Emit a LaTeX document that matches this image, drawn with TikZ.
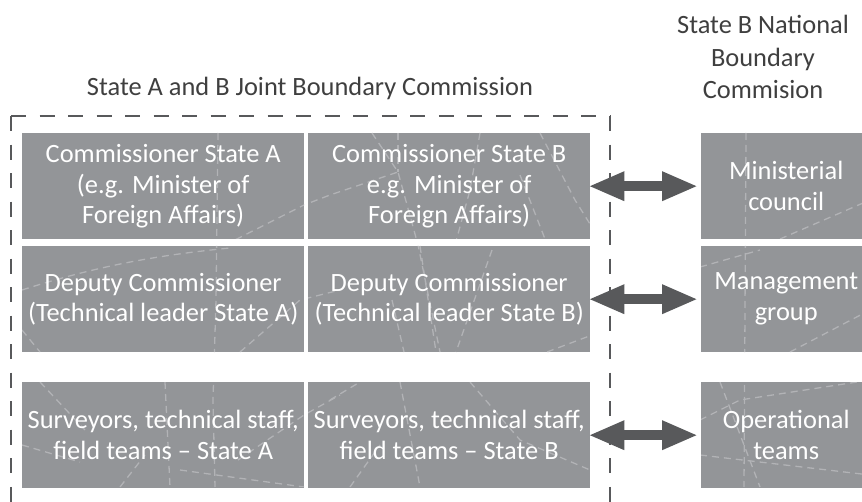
\documentclass[tikz,border=0pt]{standalone}
\usepackage{fontspec}
\setmainfont{Carlito}
\usetikzlibrary{arrows.meta}
\definecolor{boxgray}{HTML}{939598}
\definecolor{darkg}{HTML}{58595B}
\definecolor{pattc}{HTML}{B2B3B6}
\definecolor{titleg}{HTML}{3F3F3F}
\begin{document}
\begin{tikzpicture}[x=1bp,y=-1bp,
  box/.style={fill=boxgray, draw=none, text=white, align=center,
    font=\fontsize{26.5}{31}\selectfont, inner sep=0pt, anchor=north west,
    minimum width=282bp, minimum height=106bp},
  rbox/.style={box, minimum width=170bp},
  titletext/.style={text=titleg, align=center, font=\fontsize{26.5}{32.5}\selectfont, inner sep=0pt},
  frameline/.style={draw=darkg, line width=2.6bp, dash pattern=on 15bp off 13.52bp},
  dblarrow/.style={draw=darkg, line width=10bp,
    {Triangle[width=27bp,length=36bp]}-{Triangle[width=27bp,length=36bp]},
    shorten <=-2bp, shorten >=3bp},
  pattline/.style={draw=pattc, line width=1.3bp, dash pattern=on 7bp off 5bp}
]
\clip (0,0) rectangle (862,502);
% titles
\node[titletext] (t1) at (310,88) {State A and B Joint Boundary Commission};
\node[titletext] (t2) at (763,57) {State B National\\Boundary\\Commision};
% frame
\coordinate (ftl) at (11,116);
\coordinate (ftr) at (610,116);
\coordinate (fbl) at (11,540);
\coordinate (fbr) at (610,540);
\draw[frameline] (ftl) -- (fbl);
\draw[frameline] (ftl) -- (ftr);
\draw[frameline] (ftr) -- (fbr);
% boxes
\node[box] (a1) at (22,133) {};
\node[box] (b1) at (308,133) {};
\node[rbox] (r1) at (701,133) {};
\node[box] (a2) at (22,246) {};
\node[box] (b2) at (308,246) {};
\node[rbox] (r2) at (701,246) {};
\node[box] (a3) at (22,382) {};
\node[box] (b3) at (308,382) {};
\node[rbox] (r3) at (701,382) {};
% pattern
\begin{scope}
\clip (22,133) rectangle (304,239) (308,133) rectangle (590,239) (701,133) rectangle (871,239)
      (22,246) rectangle (304,352) (308,246) rectangle (590,352) (701,246) rectangle (871,352)
      (22,382) rectangle (304,487) (308,382) rectangle (590,487) (701,382) rectangle (871,487);
\draw[pattline] (218,133)--(216,300)--(213,400)--(215,487);
\draw[pattline] (225,245)--(304,205)--(330,195)--(398,172);
\draw[pattline] (372,133)--(398,172)--(418,245)--(440,352);
\draw[pattline] (398,133)--(398,172);
\draw[pattline] (455,245)--(470,190)--(480,133);
\draw[pattline] (540,133)--(575,200)--(600,240);
\draw[pattline] (520,175)--(545,239);
\draw[pattline] (22,290) .. controls (100,265) and (160,255) .. (230,248);
\draw[pattline] (22,330)--(40,352);
\draw[pattline] (240,352)--(300,300)--(340,290);
\draw[pattline] (420,246)--(436,352);
\draw[pattline] (492,250)--(456,352);
\draw[pattline] (392,300)--(404,352);
\draw[pattline] (547,352)--(592,335);
\draw[pattline] (40,382)--(85,430);
\draw[pattline] (165,382)--(170,487);
\draw[pattline] (238,460)--(304,415)--(340,395);
\draw[pattline] (120,487)--(145,455);
\draw[pattline] (180,470)--(304,487);
\draw[pattline] (22,445)--(80,462);
\draw[pattline] (400,382)--(420,487);
\draw[pattline] (470,382)--(520,440)--(590,470);
\draw[pattline] (350,487)--(380,445);
\draw[pattline] (330,400)--(360,382);
\draw[pattline] (746,133)--(744,487);
\draw[pattline] (780,239)--(870,200);
\draw[pattline] (700,267)--(760,250);
\draw[pattline] (790,352)--(870,310);
\draw[pattline] (700,420)--(740,400)--(870,380);
\draw[pattline] (700,455)--(870,475);
\draw[pattline] (720,382)--(760,487);
\end{scope}
% texts
\node[box, fill=none] at (a1.north west) {Commissioner State A\\(e.g. Minister of\\Foreign Affairs)};
\node[box, fill=none] at (b1.north west) {Commissioner State B\\e.g. Minister of\\Foreign Affairs)};
\node[rbox, fill=none] at (r1.north west) {Ministerial\\council};
\node[box, fill=none] at (a2.north west) {Deputy Commissioner\\(Technical leader State A)};
\node[box, fill=none] at (b2.north west) {Deputy Commissioner\\(Technical leader State B)};
\node[rbox, fill=none] at (r2.north west) {Management\\group};
\node[box, fill=none] at (a3.north west) {Surveyors, technical staff,\\field teams – State A};
\node[box, fill=none] at (b3.north west) {Surveyors, technical staff,\\field teams – State B};
\node[rbox, fill=none] at (r3.north west) {Operational\\teams};
% arrows
\draw[dblarrow] (b1.east) -- (r1.west);
\draw[dblarrow] (b2.east) -- (r2.west);
\draw[dblarrow] (b3.east) -- (r3.west);
\end{tikzpicture}
\end{document}
